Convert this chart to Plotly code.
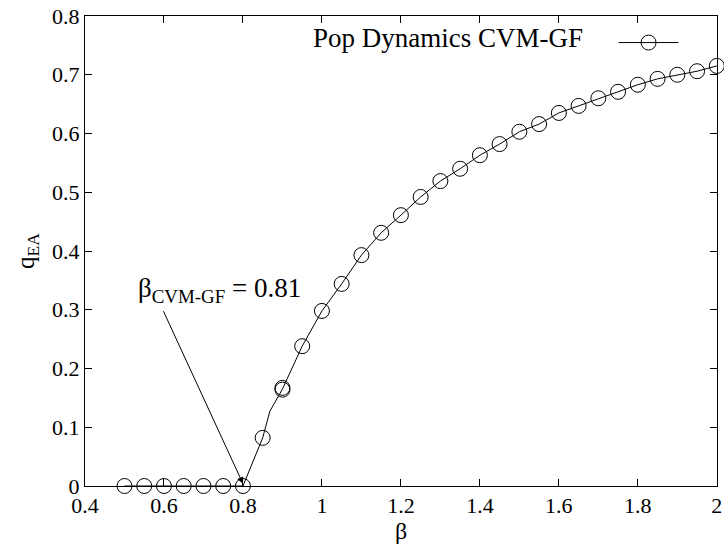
import plotly.graph_objects as go

# data
beta = [0.5, 0.55, 0.6, 0.65, 0.7, 0.75, 0.8, 0.85, 0.9, 0.9, 0.95, 1.0, 1.05, 1.1, 1.15,
        1.2, 1.25, 1.3, 1.35, 1.4, 1.45, 1.5, 1.55, 1.6, 1.65, 1.7, 1.75, 1.8, 1.85,
        1.9, 1.95, 2.0]
q_ea = [0, 0, 0, 0, 0, 0, 0, 0.082, 0.164, 0.167, 0.238, 0.298, 0.344, 0.393, 0.431,
        0.461, 0.492, 0.519, 0.540, 0.563, 0.582, 0.603, 0.616, 0.635, 0.647, 0.660, 0.671,
        0.683, 0.693, 0.700, 0.706, 0.715]
# line path (includes an unmarked vertex near the transition)
line_beta = [0.5, 0.55, 0.6, 0.65, 0.7, 0.75, 0.8, 0.85, 0.868, 0.9, 0.95, 1.0, 1.05, 1.1,
             1.15, 1.2, 1.25, 1.3, 1.35, 1.4, 1.45, 1.5, 1.55, 1.6, 1.65, 1.7, 1.75, 1.8,
             1.85, 1.9, 1.95, 2.0]
line_q = [0, 0, 0, 0, 0, 0, 0, 0.082, 0.127, 0.165, 0.238, 0.298, 0.344, 0.393, 0.431,
          0.461, 0.492, 0.519, 0.540, 0.563, 0.582, 0.603, 0.616, 0.635, 0.647, 0.660, 0.671,
          0.683, 0.693, 0.700, 0.706, 0.715]
x_ticks = [0.4, 0.6, 0.8, 1.0, 1.2, 1.4, 1.6, 1.8, 2.0]
x_tick_labels = ["0.4", "0.6", "0.8", "1", "1.2", "1.4", "1.6", "1.8", "2"]
y_ticks = [0, 0.1, 0.2, 0.3, 0.4, 0.5, 0.6, 0.7, 0.8]
y_tick_labels = ["0", "0.1", "0.2", "0.3", "0.4", "0.5", "0.6", "0.7", "0.8"]
series_name = "Pop Dynamics CVM-GF"
beta_c = 0.81

FONT = "Liberation Serif"

fig = go.Figure()
fig.add_trace(go.Scatter(x=line_beta, y=line_q, mode="lines",
                         line=dict(color="black", width=1), showlegend=False,
                         hoverinfo="skip", cliponaxis=False))
fig.add_trace(go.Scatter(x=beta, y=q_ea, mode="markers", name=series_name,
                         marker=dict(symbol="circle-open", size=15,
                                     color="black", line=dict(width=1, color="black")),
                         showlegend=False, cliponaxis=False))
# legend sample
fig.add_trace(go.Scatter(x=[None], y=[None], mode="lines+markers", name="",
                         line=dict(color="black", width=1),
                         marker=dict(symbol="circle-open", size=15, color="black",
                                     line=dict(width=1, color="black"))))

axis_common = dict(showline=True, linecolor="black", linewidth=1, mirror="ticks",
                   ticks="inside", ticklen=7, tickcolor="black", showgrid=False,
                   zeroline=False, automargin=False,
                   tickfont=dict(family=FONT, size=22, color="black"))

fig.update_layout(
    width=724, height=556,
    margin=dict(l=85, r=7, t=16, b=70, autoexpand=False),
    paper_bgcolor="white", plot_bgcolor="white",
    font=dict(family=FONT, size=22, color="black"),
    xaxis=dict(range=[0.4, 2.0005], tickvals=x_ticks, ticktext=x_tick_labels,
               title=dict(text="β", font=dict(family=FONT, size=24), standoff=4),
               **axis_common),
    yaxis=dict(range=[0, 0.8], tickvals=y_ticks, ticktext=y_tick_labels,
               title=dict(text="q<sub>EA</sub>", font=dict(family=FONT, size=25), standoff=10),
               **axis_common),
    legend=dict(x=0.955, y=0.985, xanchor="right", yanchor="top",
                bgcolor="rgba(0,0,0,0)", itemwidth=60, tracegroupgap=0,
                font=dict(family=FONT, size=20)),
    showlegend=True,
)

fig.add_annotation(x=1.665, y=0.762, xref="x", yref="y", text=series_name,
                   showarrow=False, xanchor="right", yanchor="middle",
                   font=dict(family=FONT, size=27, color="black"))

fig.add_annotation(x=0.528, y=0.333, xref="x", yref="y",
                   text="β<sub>CVM-GF</sub> = %.2f" % beta_c,
                   showarrow=False, xanchor="left", yanchor="middle",
                   font=dict(family=FONT, size=27, color="black"))

fig.add_annotation(x=0.8, y=0.004, ax=0.597, ay=0.30, xref="x", yref="y",
                   axref="x", ayref="y", text="", showarrow=True,
                   arrowhead=2, arrowsize=1.3, arrowwidth=1, arrowcolor="black")

fig.write_html("out.html", config={"displayModeBar": False},
               post_script="document.body.style.margin='0';")
